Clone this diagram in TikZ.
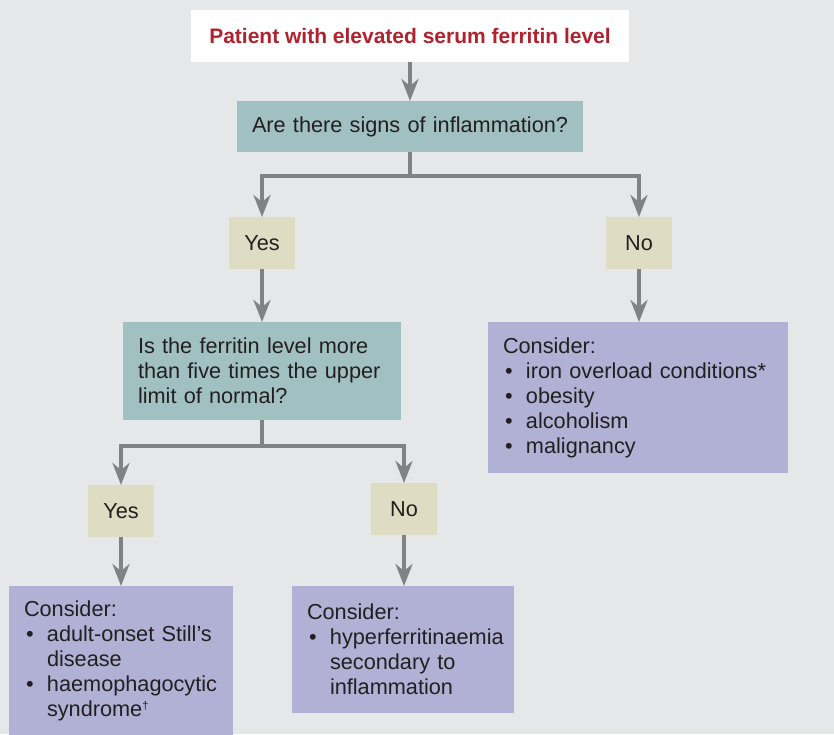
\documentclass[tikz,border=0pt]{standalone}
\usepackage{fontspec}
\setmainfont{Liberation Sans}
\usetikzlibrary{arrows.meta}

\definecolor{bggray}{HTML}{E6E7E8}
\definecolor{qteal}{HTML}{A1C0C2}
\definecolor{ansbeige}{HTML}{DFDCC4}
\definecolor{conslav}{HTML}{B0B1D4}
\definecolor{titlered}{HTML}{B1222E}
\definecolor{arrgray}{HTML}{808285}
\definecolor{txtblack}{HTML}{231F20}

\newcommand{\bul}{\makebox[23pt][l]{\hspace{2pt}•}}
\newcommand{\cont}{\hspace*{23pt}}
\newcommand{\daggermark}{\raisebox{7pt}{\fontsize{11}{11}\selectfont †}}

\begin{document}
\begin{tikzpicture}[x=1pt, y=-1pt,
	every node/.style={anchor=north west, outer sep=0, inner ysep=0, text=txtblack, font=\fontsize{21.7}{25}\selectfont},
	titlebox/.style={fill=white, minimum width=438pt, minimum height=52pt, text=titlered, font=\fontsize{21}{25}\selectfont\bfseries},
	question/.style={fill=qteal, inner xsep=15pt, align=left},
	answer/.style={fill=ansbeige, inner xsep=0, minimum width=66pt, minimum height=52pt},
	consider/.style={fill=conslav, inner xsep=15pt, align=left},
	arr/.style={draw=arrgray, line width=4.5pt, -{Stealth[length=22pt,width=17pt,inset=7pt]}}]
		
		\fill[bggray] (0,0) rectangle (834,734);
		\useasboundingbox (0,0) rectangle (834,734);
		
		\node (T) at (191,10) [titlebox] {Patient with elevated serum ferritin level};
		\node (Q1) at (237,101) [question, text width=316pt, minimum height=51pt] {Are there signs of inflammation?};
		\node (Y1) at (229,217) [answer] {Yes};
		\node (N1) at (606,217) [answer] {No};
		\node (Q2) at (123,322) [question, text width=248pt, minimum height=98pt] {Is the ferritin level more\\ than five times the upper\\ limit of normal?};
		\node (C1) at (488,322) [consider, text width=270pt, minimum height=151pt] {Consider:\\ \bul iron overload conditions*\\ \bul obesity\\ \bul alcoholism\\ \bul malignancy};
		\node (Y2) at (88,485) [answer] {Yes};
		\node (N2) at (371,483) [answer] {No};
		\node (C2) at (9,586) [consider, text width=194pt, minimum height=150pt] {Consider:\\ \bul adult-onset Still’s\\ \cont disease\\ \bul haemophagocytic\\ \cont syndrome\daggermark};
		\node (C3) at (292,586) [consider, text width=192pt, minimum height=127pt] {Consider:\\ \bul hyperferritinaemia\\ \cont secondary to\\ \cont inflammation};
		
		\draw[arr] (T.south) -- (T.south |- Q1.north);
		\draw[arr] (Q1.south) -- ++(0,24) -| (Y1.north);
		\draw[arr] (Q1.south) -- ++(0,24) -| (N1.north);
		\draw[arr] (Y1.south) -- (Y1.south |- Q2.north);
		\draw[arr] (N1.south) -- (N1.south |- C1.north);
		\draw[arr] (Q2.south) -- ++(0,26) -| (Y2.north);
		\draw[arr] (Q2.south) -- ++(0,26) -| (N2.north);
		\draw[arr] (Y2.south) -- (Y2.south |- C2.north);
		\draw[arr] (N2.south) -- (N2.south |- C3.north);
	\end{tikzpicture}
\end{document}
